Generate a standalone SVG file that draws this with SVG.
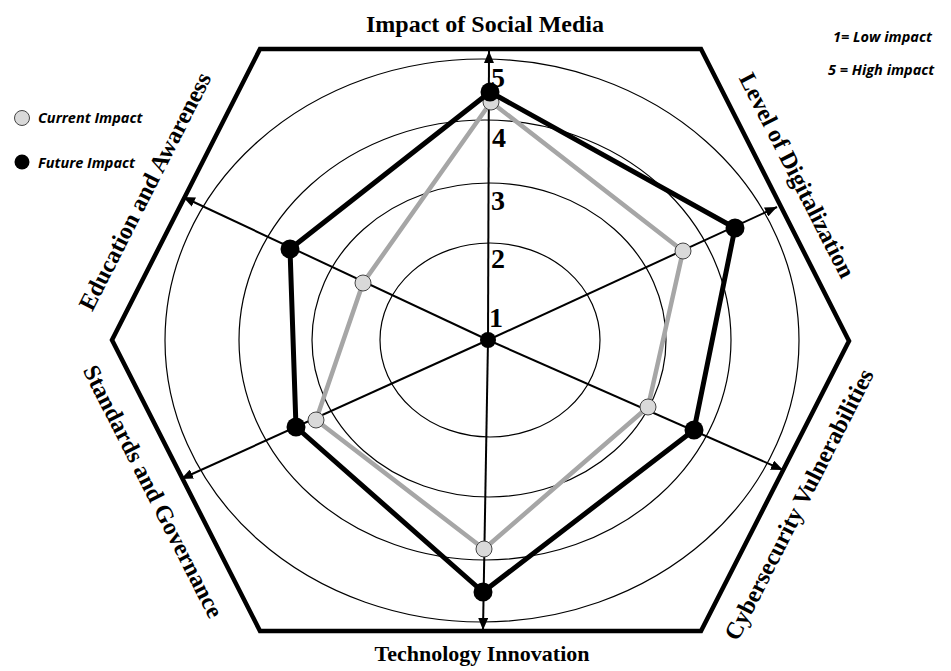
<svg xmlns="http://www.w3.org/2000/svg" width="951" height="671" viewBox="0 0 951 671">
<style>
.ring{fill:none;stroke:#000;stroke-width:1.2}
.axis{stroke:#000;stroke-width:2;fill:none}
.lab{font-family:"Liberation Serif","Times New Roman",serif;font-weight:bold;font-size:24px;fill:#000}
.num{font-family:"Liberation Serif","Times New Roman",serif;font-weight:bold;font-size:28px;fill:#000}
.leg{font-family:"Open Sans","Liberation Sans",sans-serif;font-weight:bold;font-style:italic;font-size:14.5px;fill:#000}
.cur{fill:#d9d9d9;stroke:#444;stroke-width:1}
.fut{fill:#000}
</style>
<defs>
<marker id="arr" viewBox="0 0 12 10" refX="12" refY="5" markerWidth="12" markerHeight="10" markerUnits="userSpaceOnUse" orient="auto">
<path d="M0,0 L12,5 L0,10 Z" fill="#000"/>
</marker>
</defs>
<rect width="951" height="671" fill="#fff"/>
<g id="frame">
<polygon points="260,49 701,49 849,341 701,631 260,631 112,340" fill="none" stroke="#000" stroke-width="4.5"/>
<ellipse class="ring" cx="482" cy="340.5" rx="317" ry="281.5"/>
<ellipse class="ring" cx="485" cy="340" rx="246" ry="220"/>
<ellipse class="ring" cx="489" cy="340" rx="177" ry="157"/>
<ellipse class="ring" cx="490" cy="340" rx="110" ry="97"/>
</g>
<g id="connectors">
<line class="axis" x1="488" y1="340" x2="489" y2="51" marker-end="url(#arr)"/>
<line class="axis" x1="488" y1="340" x2="483" y2="630" marker-end="url(#arr)"/>
<line class="axis" x1="488" y1="340" x2="777" y2="207" marker-end="url(#arr)"/>
<line class="axis" x1="488" y1="340" x2="183" y2="197" marker-end="url(#arr)"/>
<line class="axis" x1="488" y1="340" x2="181" y2="479" marker-end="url(#arr)"/>
<line class="axis" x1="488" y1="340" x2="783" y2="470" marker-end="url(#arr)"/>
</g>
<g id="scale">
<text class="num" x="489" y="327">1</text>
<text class="num" x="491" y="268">2</text>
<text class="num" x="491" y="210">3</text>
<text class="num" x="492" y="147">4</text>
<text class="num" x="491" y="87">5</text>
</g>
<g id="current-impact">
<polygon points="491,102 683,251 648,407 484,549 316,420 363,283" fill="none" stroke="#a6a6a6" stroke-width="4.5" stroke-linejoin="round"/>
<circle class="cur" cx="491" cy="102" r="8"/>
<circle class="cur" cx="683" cy="251" r="8"/>
<circle class="cur" cx="648" cy="407" r="8"/>
<circle class="cur" cx="484" cy="549" r="8"/>
<circle class="cur" cx="316" cy="420" r="8"/>
<circle class="cur" cx="363" cy="283" r="8"/>
</g>
<g id="future-impact">
<polygon points="490,92 735,228 694,430 483,592 296,427 290,249" fill="none" stroke="#000" stroke-width="5" stroke-linejoin="round"/>
<circle class="fut" cx="490" cy="92" r="9.5"/>
<circle class="fut" cx="735" cy="228" r="9.5"/>
<circle class="fut" cx="694" cy="430" r="9.5"/>
<circle class="fut" cx="483" cy="592" r="9.5"/>
<circle class="fut" cx="296" cy="427" r="9.5"/>
<circle class="fut" cx="290" cy="249" r="9.5"/>
<circle class="fut" cx="488" cy="340" r="8"/>
</g>
<g id="axis-labels">
<text class="lab" x="485" y="32" text-anchor="middle">Impact of Social Media</text>
<text class="lab" x="482" y="661" text-anchor="middle" style="font-size:22px">Technology Innovation</text>
<text class="lab" text-anchor="middle" transform="translate(152,195) rotate(-63)">Education and Awareness</text>
<text class="lab" text-anchor="middle" transform="translate(790,179) rotate(63)">Level of Digitalization</text>
<text class="lab" text-anchor="middle" transform="translate(146,495) rotate(63)">Standards and Governance</text>
<text class="lab" text-anchor="middle" transform="translate(806,508) rotate(-63)">Cybersecurity Vulnerabilities</text>
</g>
<g id="legend">
<circle cx="22" cy="118" r="7.5" fill="#d9d9d9" stroke="#444" stroke-width="1"/>
<text class="leg" x="38" y="123">Current Impact</text>
<circle cx="22" cy="162" r="7.5" fill="#000"/>
<text class="leg" x="38" y="168">Future Impact</text>
<text class="leg" x="833" y="42">1= Low impact</text>
<text class="leg" x="828" y="75">5 = High impact</text>
</g>
</svg>
